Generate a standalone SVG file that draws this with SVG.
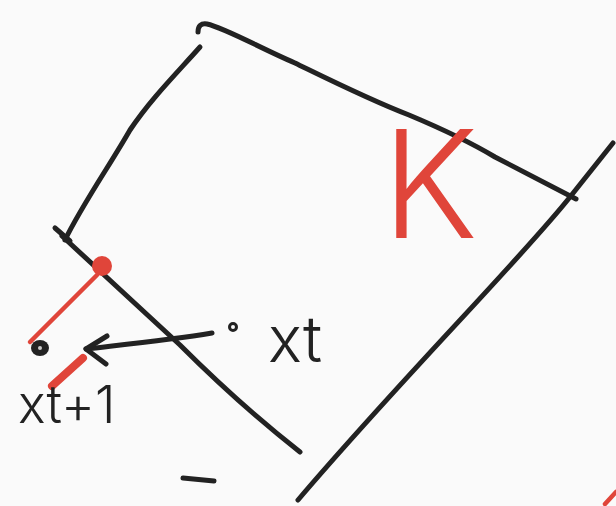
<svg xmlns="http://www.w3.org/2000/svg" width="616" height="506" viewBox="0 0 616 506">
<style>
.ink{fill:none;stroke:#222;stroke-width:5;stroke-linecap:round;stroke-linejoin:round}
.red{fill:none;stroke:#e0453a;stroke-width:4.5;stroke-linecap:round;stroke-linejoin:round}
.lbl{font-family:Inter,"Liberation Sans",sans-serif;font-weight:300}
</style>
<rect width="616" height="506" fill="#fafafa"/>
<g id="box">
<path class="ink" d="M198,32 C198,26 201,23 207,24 C225,28 260,48 295,63 C330,80 370,100 409,115 C440,128 470,142 495,157 L576,199"/>
<path class="ink" d="M200,47 C175,75 150,100 130,130 C110,165 82,205 65,240"/>
<path class="ink" d="M55,228 L70,241"/>
<path class="ink" d="M613,143 L570,197 C520,260 400,380 298,500"/>
<path class="ink" d="M62,236 L180,345 Q240,405 300,452"/>
</g>
<g id="label-K">
<text class="lbl" x="382" y="238" font-size="150" fill="#e0453a" font-weight="200" textLength="96" lengthAdjust="spacingAndGlyphs">K</text>
</g>
<g id="point-boundary">
<circle cx="102" cy="266" r="10" fill="#e0453a"/>
<path class="red" d="M97,275 L30,342"/>
</g>
<g id="point-xt1">
<ellipse cx="40" cy="348" rx="9" ry="8" fill="#222"/>
<circle cx="40" cy="348" r="2" fill="#ccc"/>
<path d="M83,358 L52,386" fill="none" stroke="#e0453a" stroke-width="8" stroke-linecap="round"/>
<text class="lbl" x="18" y="423" font-size="52" fill="#222">xt+1</text>
</g>
<g id="point-xt">
<circle cx="233" cy="327" r="3.5" fill="none" stroke="#222" stroke-width="3"/>
<text class="lbl" x="268" y="362" font-size="64" fill="#222">xt</text>
</g>
<g id="connectors">
<path class="ink" d="M212,333 C170,340 120,345 86,349"/>
<path class="ink" d="M107,336 L86,349 L106,364"/>
</g>
<g id="marks">
<path class="ink" d="M183,478 L214,481"/>
<path class="red" d="M605,504 L616,492"/>
</g>
</svg>
